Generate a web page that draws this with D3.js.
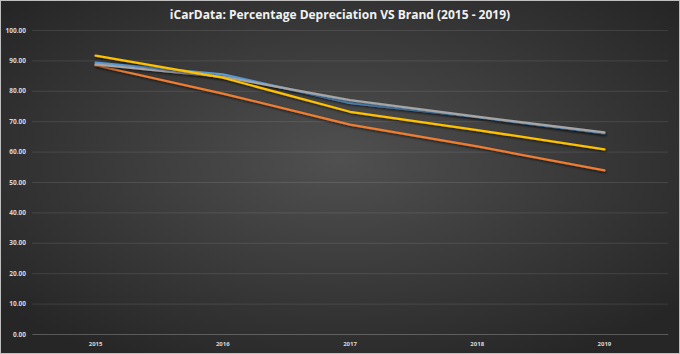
<!DOCTYPE html>
<html>
<head>
<meta charset="utf-8">
<script src="https://cdn.jsdelivr.net/npm/d3@7"></script>
<style>
  body { margin: 0; background: #2b2b2b; }
  svg { display: block; }
</style>
</head>
<body>
<svg id="chart"></svg>
<script>
/**
 * Data.
 */
const years = ['2015', '2016', '2017', '2018', '2019'];
const yTicks = [0, 10, 20, 30, 40, 50, 60, 70, 80, 90, 100];
const seriesBlue = [89.3, 85.4, 76.0, 71.3, 66.0];
const seriesOrange = [88.4, 79.1, 68.9, 61.7, 53.8];
const seriesGray = [88.7, 84.6, 76.9, 71.5, 66.3];
const seriesYellow = [91.6, 84.3, 73.1, 67.1, 60.7];

const series = [
    { key: 'blue', values: seriesBlue, color: '#5b9bd5' },
    { key: 'orange', values: seriesOrange, color: '#ed7d31' },
    { key: 'gray', values: seriesGray, color: '#a5a5a5' },
    { key: 'yellow', values: seriesYellow, color: '#ffc000' }
];

/**
 * Visual configs.
 */
const visWidth = 680, visHeight = 354;
const margin = { top: 30, right: 12, bottom: 20, left: 32 };
const width = visWidth - margin.left - margin.right,
    height = visHeight - margin.top - margin.bottom;

const svg = d3.select('#chart')
    .attr('width', visWidth)
    .attr('height', visHeight);

// Background: dark radial gradient
const defs = svg.append('defs');
const grad = defs.append('radialGradient')
    .attr('id', 'bg')
    .attr('cx', '50%').attr('cy', '45%').attr('r', '65%');
grad.append('stop').attr('offset', '0%').attr('stop-color', '#505050');
grad.append('stop').attr('offset', '100%').attr('stop-color', '#262626');

const shadow = defs.append('filter').attr('id', 'shadow')
    .attr('x', '-5%').attr('y', '-20%').attr('width', '110%').attr('height', '140%');
shadow.append('feDropShadow')
    .attr('dx', 1).attr('dy', 1.5).attr('stdDeviation', 1)
    .attr('flood-color', '#000').attr('flood-opacity', 0.6);

svg.append('rect')
    .attr('x', 0.5).attr('y', 0.5)
    .attr('width', visWidth - 1).attr('height', visHeight - 1)
    .attr('fill', 'url(#bg)')
    .attr('stroke', '#bfbfbf');

svg.append('text')
    .attr('x', visWidth / 2)
    .attr('y', 19)
    .attr('text-anchor', 'middle')
    .style('font-family', '"Open Sans", sans-serif')
    .style('font-weight', 'bold')
    .style('font-size', '12px')
    .attr('fill', '#f2f2f2')
    .text('iCarData: Percentage Depreciation VS Brand (2015 - 2019)');

const g = svg.append('g')
    .attr('transform', 'translate(' + margin.left + ',' + margin.top + ')');

/**
 * D3.
 */
const xScale = d3.scaleBand().domain(years).range([0, width]);
const yScale = d3.scaleLinear().domain([0, 100]).range([height, 0]);

const yAxis = d3.axisLeft(yScale)
    .tickValues(yTicks)
    .tickSize(-width)
    .tickFormat(d3.format('.2f'));

const yAxisContainer = g.append('g').attr('class', 'y-axis').call(yAxis);
yAxisContainer.select('.domain').remove();
yAxisContainer.selectAll('line')
    .attr('stroke', '#ffffff')
    .attr('stroke-opacity', 0.1);
yAxisContainer.selectAll('text')
    .attr('x', -6)
    .attr('fill', '#d9d9d9')
    .style('font-family', '"Open Sans", sans-serif')
    .style('font-weight', 'bold')
    .style('font-size', '6.5px');

const xAxis = d3.axisBottom(xScale).tickSize(0);
const xAxisContainer = g.append('g')
    .attr('class', 'x-axis')
    .attr('transform', 'translate(0,' + height + ')')
    .call(xAxis);
xAxisContainer.select('.domain')
    .attr('stroke', '#ffffff')
    .attr('stroke-opacity', 0.15);
xAxisContainer.selectAll('text')
    .attr('dy', '1.5em')
    .attr('fill', '#d9d9d9')
    .style('font-family', '"Open Sans", sans-serif')
    .style('font-weight', 'bold')
    .style('font-size', '6px');

const line = d3.line()
    .x((d, i) => xScale(years[i]) + xScale.bandwidth() / 2)
    .y(d => yScale(d));

g.append('g').attr('class', 'lines')
    .selectAll('path')
    .data(series)
    .join('path')
        .attr('d', d => line(d.values))
        .style('fill', 'none')
        .style('stroke', d => d.color)
        .style('stroke-width', '2.25px')
        .style('stroke-linecap', 'round')
        .style('stroke-linejoin', 'round')
        .attr('filter', 'url(#shadow)');
</script>
</body>
</html>
